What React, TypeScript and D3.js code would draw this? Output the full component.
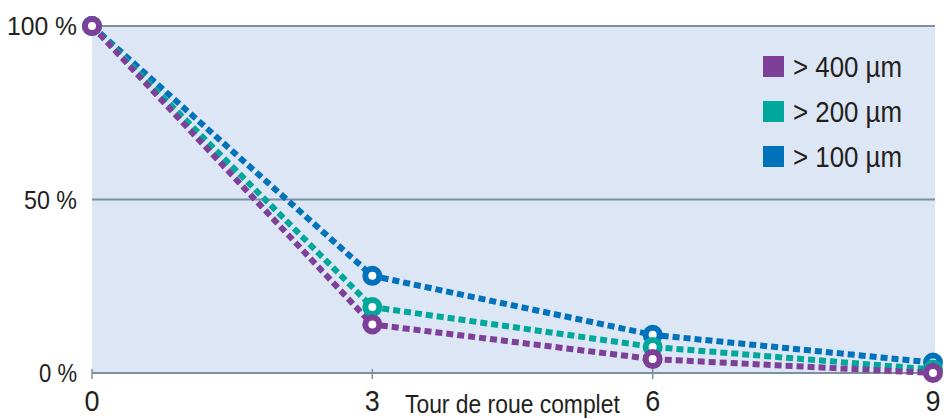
import { useEffect, useRef } from "react";
import * as d3 from "d3";

const FONT = "'Liberation Sans', Arial, sans-serif";
const INK = "#231f20";

const TOURS = [0, 3, 6, 9];
const X_TICKS = [0, 3, 6, 9];
const Y_TICKS = [0, 50, 100];
const Y_LABELS = ["0 %", "50 %", "100 %"];
const Y_LABEL_W = [38, 53, 70];
const AXIS_TITLE = "Tour de roue complet";

const SERIES_NAMES = ["> 400 µm", "> 200 µm", "> 100 µm"];
const SERIES_COLORS = ["#7d3f98", "#00a89c", "#0072bc"];
const V400 = [100, 14, 4, 0];
const V200 = [100, 19, 7.5, 1];
const V100 = [100, 28, 11, 3];
const SERIES_VALUES = [V400, V200, V100];

export default function App() {
  const ref = useRef<SVGSVGElement>(null);

  useEffect(() => {
    document.body.style.margin = "0";
    if (!ref.current) return;
    const W = 950, H = 419;
    const mg = { t: 26, r: 15, b: 46, l: 92 };
    const svg = d3.select(ref.current);
    svg.selectAll("*").remove();

    const x = d3.scaleLinear().domain([0, 9]).range([mg.l, W - mg.r - 2]);
    const y = d3.scaleLinear().domain([0, 100]).range([H - mg.b, mg.t]);

    // texte condensé (police étroite absente -> textLength)
    const txt = (tx: number, ty: number, s: string, size: number, w: number, anchor = "start") =>
      svg.append("text")
        .attr("x", tx).attr("y", ty)
        .attr("text-anchor", anchor)
        .attr("font-family", FONT).attr("font-size", size)
        .attr("fill", INK)
        .attr("textLength", w).attr("lengthAdjust", "spacingAndGlyphs")
        .text(s);

    // Fond
    svg.append("rect")
      .attr("x", mg.l).attr("y", y(100))
      .attr("width", W - mg.r - mg.l).attr("height", y(0) - y(100))
      .attr("fill", "#dce6f4");

    // Grille
    Y_TICKS.forEach((t, i) => {
      svg.append("line")
        .attr("x1", mg.l).attr("x2", W - mg.r)
        .attr("y1", y(t)).attr("y2", y(t))
        .attr("stroke", "#7d90a0").attr("stroke-width", 2);
      txt(77, y(t) + 9, Y_LABELS[i], 26.5, Y_LABEL_W[i], "end");
    });

    // Axe x
    X_TICKS.forEach((t) => {
      svg.append("line")
        .attr("x1", x(t)).attr("x2", x(t))
        .attr("y1", y(0) - 4).attr("y2", y(0) + 6)
        .attr("stroke", "#7d90a0").attr("stroke-width", 1.5);
      txt(x(t), 411, String(t), 30, 15, "middle");
    });
    // titre: compression par transform
    svg.append("text")
      .attr("transform", "translate(405,413) scale(0.88,1)")
      .attr("font-family", FONT).attr("font-size", 26)
      .attr("fill", INK)
      .text(AXIS_TITLE);

    // Séries (bleu en dessous, violet au dessus)
    const order = [2, 1, 0];
    order.forEach((si) => {
      const vals = SERIES_VALUES[si];
      const pts = TOURS.map((t, i) => [t, vals[i]] as [number, number]);
      svg.append("path")
        .datum(pts)
        .attr("d", d3.line<[number, number]>().x((d) => x(d[0])).y((d) => y(d[1])))
        .attr("fill", "none")
        .attr("stroke", SERIES_COLORS[si])
        .attr("stroke-width", 6)
        .attr("stroke-dasharray", "7,4");
    });
    order.forEach((si) => {
      const vals = SERIES_VALUES[si];
      svg.append("g").selectAll("circle").data(TOURS).join("circle")
        .attr("cx", (d) => x(d)).attr("cy", (_d, i) => y(vals[i]))
        .attr("r", 7)
        .attr("fill", "#fff")
        .attr("stroke", SERIES_COLORS[si])
        .attr("stroke-width", 6);
    });

    // Légende
    SERIES_NAMES.forEach((name, i) => {
      const cy = 67 + i * 45;
      svg.append("rect")
        .attr("x", 763).attr("y", cy - 11)
        .attr("width", 21).attr("height", 21)
        .attr("fill", SERIES_COLORS[i]);
      txt(793, cy + 10, name, 29, 109);
    });
  }, []);

  return <svg ref={ref} width={950} height={419} style={{ display: "block" }} />;
}
